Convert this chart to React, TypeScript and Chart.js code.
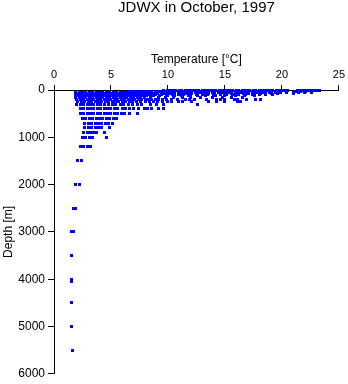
import React, { useEffect, useRef } from 'react';
import { Chart, registerables } from 'chart.js';

Chart.register(...registerables);

const chartTitle = 'JDWX in October, 1997';
const xAxisTitle = 'Temperature [°C]';
const yAxisTitle = 'Depth [m]';
const xTicks = [0, 5, 10, 15, 20, 25];
const yTicks = [0, 1000, 2000, 3000, 4000, 5000, 6000];

const depthLevels = [0, 10, 20, 30, 50, 75, 100, 125, 150, 200, 250, 300, 400, 500, 600, 700, 800, 900, 1000, 1200, 1500, 2000, 2500, 3000, 3500, 4000, 4050, 4500, 5000, 5500];

const tempsByDepth: number[][] = [
  // 0 m
  [10.0, 10.5, 11.0, 11.5, 12.0, 12.5, 13.0, 13.5, 14.0, 14.5, 15.0, 15.5, 16.0, 16.5, 17.0, 17.5, 18.0, 18.5, 19.0, 19.5, 20.0, 20.5, 21.5, 22.0, 22.5, 23.0],
  // 10 m
  [10.2, 10.7, 11.2, 11.7, 12.2, 12.7, 13.2, 13.7, 14.2, 14.7, 15.2, 15.7, 16.2, 16.7, 17.2, 17.7, 18.2, 18.7, 19.2, 19.7, 20.2, 21.4, 21.9, 22.4, 22.9, 23.3],
  // 20 m
  [9.6, 10.1, 10.6, 11.1, 11.6, 12.1, 12.6, 13.1, 13.6, 14.1, 14.6, 15.1, 15.6, 16.1, 16.6, 17.1, 17.6, 18.1, 18.6, 19.1, 19.6, 20.1, 21.7, 22.2, 22.7],
  // 30 m
  [6.5, 6.8, 7.1, 7.4, 7.7, 8.0, 8.3, 8.6, 8.9, 9.2, 9.5, 9.9, 10.4, 10.9, 11.4, 11.9, 12.4, 12.9, 13.4, 13.9, 14.4, 14.9, 15.4, 15.9, 16.4, 16.9, 17.4, 17.9, 18.4, 18.9, 19.4, 19.9, 21.2, 21.6, 22.1, 22.6],
  // 50 m
  [1.9, 2.2, 2.5, 2.8, 3.1, 3.4, 3.7, 4.0, 4.3, 4.6, 4.9, 5.2, 5.5, 5.8, 6.1, 6.4, 6.7, 7.0, 7.3, 7.6, 7.9, 8.2, 8.5, 8.9, 9.4, 9.9, 10.4, 10.9, 11.4, 11.9, 12.4, 12.9, 13.4, 13.9, 14.4, 14.9, 15.4, 15.9, 16.4, 16.9, 17.4, 17.9, 18.4, 18.9, 19.4, 19.9, 20.4, 21.0, 21.5, 22.0, 22.6],
  // 75 m
  [2.05, 2.35, 2.65, 2.95, 3.25, 3.55, 3.85, 4.15, 4.45, 4.75, 5.05, 5.35, 5.65, 5.95, 6.25, 6.55, 6.85, 7.15, 7.45, 7.75, 8.05, 8.35, 8.7, 9.1, 9.6, 10.1, 10.6, 11.1, 11.6, 12.1, 12.6, 13.1, 13.6, 14.1, 14.6, 15.1, 15.6, 16.1, 16.6, 17.1, 17.6, 18.1, 18.6, 19.1, 19.6, 21.0],
  // 100 m
  [1.9, 2.2, 2.5, 2.8, 3.1, 3.4, 3.7, 4.0, 4.3, 4.6, 4.9, 5.2, 5.5, 5.8, 6.1, 6.4, 6.7, 7.0, 7.3, 7.6, 7.9, 8.2, 8.5, 8.9, 9.4, 9.9, 10.4, 10.9, 11.4, 12.0, 12.5, 13.0, 13.5, 14.0, 14.6, 15.1, 15.7, 16.2, 16.8, 17.4, 18.0, 18.6, 19.2],
  // 125 m
  [2.05, 2.35, 2.65, 2.95, 3.25, 3.55, 3.85, 4.15, 4.45, 4.75, 5.05, 5.35, 5.65, 5.95, 6.25, 6.55, 6.85, 7.15, 7.45, 7.75, 8.1, 8.7, 9.3, 10.0, 10.6, 11.2, 11.8, 12.6, 13.3, 14.2, 15.0, 15.9, 16.7, 17.6],
  // 150 m
  [1.9, 2.2, 2.5, 2.8, 3.1, 3.4, 3.7, 4.0, 4.3, 4.6, 4.9, 5.2, 5.5, 5.8, 6.1, 6.4, 6.7, 7.0, 7.3, 7.6, 7.9, 8.5, 9.2, 9.8, 10.5, 11.3, 12.0, 12.9, 13.9, 14.8, 15.6, 16.5],
  // 200 m
  [2.0, 2.3, 2.6, 2.9, 3.2, 3.5, 3.8, 4.1, 4.4, 4.7, 5.0, 5.3, 5.6, 5.9, 6.2, 6.5, 6.8, 7.1, 7.4, 7.7, 8.0, 8.3, 8.6, 8.9, 9.2, 9.5, 9.9, 10.3, 10.8, 11.5, 11.9, 12.3, 13.4, 14.3, 14.6, 15.0, 15.8, 16.1, 16.9, 17.7, 18.1],
  // 250 m
  [2.1, 2.4, 2.7, 3.0, 3.3, 3.6, 3.9, 4.2, 4.5, 4.8, 5.1, 5.4, 5.7, 6.0, 6.3, 6.6, 6.9, 7.2, 7.6, 8.0, 8.4, 8.7, 9.1, 9.5, 10.0, 10.3, 10.9, 11.3, 12.1, 13.6, 14.3, 15.0, 16.1, 16.4],
  // 300 m
  [2.0, 2.3, 2.6, 2.9, 3.2, 3.5, 3.8, 4.1, 4.4, 4.8, 5.1, 5.4, 5.8, 6.1, 6.5, 6.9, 7.3, 7.7, 8.5, 9.0, 9.6, 12.6],
  // 400 m
  [2.3, 2.6, 2.9, 3.2, 3.5, 3.8, 4.1, 4.4, 4.7, 5.0, 5.3, 5.6, 6.0, 6.3, 6.6, 7.0, 7.4, 7.9, 8.2, 8.6, 9.2, 9.6],
  // 500 m
  [2.3, 2.6, 2.9, 3.2, 3.5, 3.8, 4.1, 4.4, 4.7, 5.0, 5.3, 5.6, 5.9, 6.2, 6.6, 7.3],
  // 600 m
  [2.5, 2.8, 3.1, 3.4, 3.7, 4.0, 4.3, 4.6, 4.9, 5.2, 5.5],
  // 700 m
  [2.7, 3.0, 3.3, 3.6, 3.9, 4.2, 4.5, 4.8, 5.1],
  // 800 m
  [2.7, 3.0, 3.3, 3.6, 3.9, 4.2, 4.9],
  // 900 m
  [2.6, 2.9, 3.2, 3.5, 3.75, 4.45],
  // 1000 m
  [2.5, 2.8, 3.1, 3.4, 4.6],
  // 1200 m
  [2.3, 2.6, 2.9, 3.2],
  // 1500 m
  [2.1, 2.4],
  // 2000 m
  [1.9, 2.2],
  // 2500 m
  [1.68, 1.88],
  // 3000 m
  [1.5, 1.7],
  // 3500 m
  [1.55],
  // 4000 m
  [1.5],
  // 4050 m
  [1.5],
  // 4500 m
  [1.52],
  // 5000 m
  [1.5],
  // 5500 m
  [1.62],
];

const FONT = '"Liberation Sans", Arial, Helvetica, sans-serif';

export default function App() {
  const ref = useRef<HTMLCanvasElement | null>(null);

  useEffect(() => {
    document.body.style.margin = '0';
    const canvas = ref.current;
    if (!canvas) return;

    const marker = document.createElement('canvas');
    marker.width = 3;
    marker.height = 3;
    const mctx = marker.getContext('2d')!;
    mctx.fillStyle = '#0000ff';
    mctx.fillRect(0, 0, 3, 3);

    const points: { x: number; y: number }[] = [];
    depthLevels.forEach((d, i) => {
      (tempsByDepth[i] || []).forEach((t) => points.push({ x: t, y: d }));
    });

    const titlePlugin = {
      id: 'mainTitle',
      beforeDatasetsDraw(chart: any) {
        chart.ctx.imageSmoothingEnabled = false;
      },
      afterDatasetsDraw(chart: any) {
        chart.ctx.imageSmoothingEnabled = true;
      },
      afterDraw(chart: any) {
        const { ctx, chartArea } = chart;
        ctx.save();
        ctx.font = `15px ${FONT}`;
        ctx.fillStyle = '#000';
        ctx.textAlign = 'center';
        ctx.textBaseline = 'middle';
        ctx.fillText(chartTitle, (chartArea.left + chartArea.right) / 2, 8);
        ctx.restore();
      },
    };

    const chart = new Chart(canvas, {
      type: 'scatter',
      data: {
        datasets: [
          {
            data: points,
            pointStyle: marker as any,
            pointRadius: 2,
            pointHoverRadius: 2,
            backgroundColor: '#0000ff',
            borderColor: '#0000ff',
            clip: false as any,
          },
        ],
      },
      options: {
        responsive: false,
        animation: false,
        devicePixelRatio: 1,
        layout: { padding: { left: 0, top: 0, right: 8, bottom: 9 } },
        plugins: {
          legend: { display: false },
          title: { display: false },
          tooltip: { enabled: false },
        },
        events: [],
        scales: {
          x: {
            type: 'linear',
            position: 'top',
            min: 0,
            max: 25,
            afterBuildTicks: (scale: any) => {
              scale.ticks = xTicks.map((v) => ({ value: v }));
            },
            afterFit: (scale: any) => {
              scale.height = 90;
            },
            ticks: {
              color: '#000',
              font: { family: FONT, size: 11 },
              padding: 3,
              maxRotation: 0,
              autoSkip: false,
              callback: (v: any) => String(v),
            },
            grid: {
              drawOnChartArea: false,
              drawTicks: true,
              tickLength: 5,
              color: '#000',
              lineWidth: 1,
            },
            border: { display: true, color: '#000', width: 1 },
            title: {
              display: true,
              text: xAxisTitle,
              color: '#000',
              font: { family: FONT, size: 12 },
              padding: { top: 52, bottom: 0 },
            },
          },
          y: {
            type: 'linear',
            position: 'left',
            reverse: true,
            min: 0,
            max: 6000,
            afterBuildTicks: (scale: any) => {
              scale.ticks = yTicks.map((v) => ({ value: v }));
            },
            afterFit: (scale: any) => {
              scale.width = 54;
            },
            ticks: {
              color: '#000',
              font: { family: FONT, size: 12 },
              padding: 3,
              autoSkip: false,
              callback: (v: any) => String(v),
            },
            grid: {
              drawOnChartArea: false,
              drawTicks: true,
              tickLength: 6,
              color: '#000',
              lineWidth: 1,
            },
            border: { display: true, color: '#000', width: 1 },
            title: {
              display: true,
              text: yAxisTitle,
              color: '#000',
              font: { family: FONT, size: 12 },
              padding: { top: 1, bottom: 0 },
            },
          },
        },
      },
      plugins: [titlePlugin],
    });

    return () => {
      chart.destroy();
    };
  }, []);

  return <canvas ref={ref} width={348} height={384} style={{ display: 'block', width: 348, height: 384 }} />;
}
